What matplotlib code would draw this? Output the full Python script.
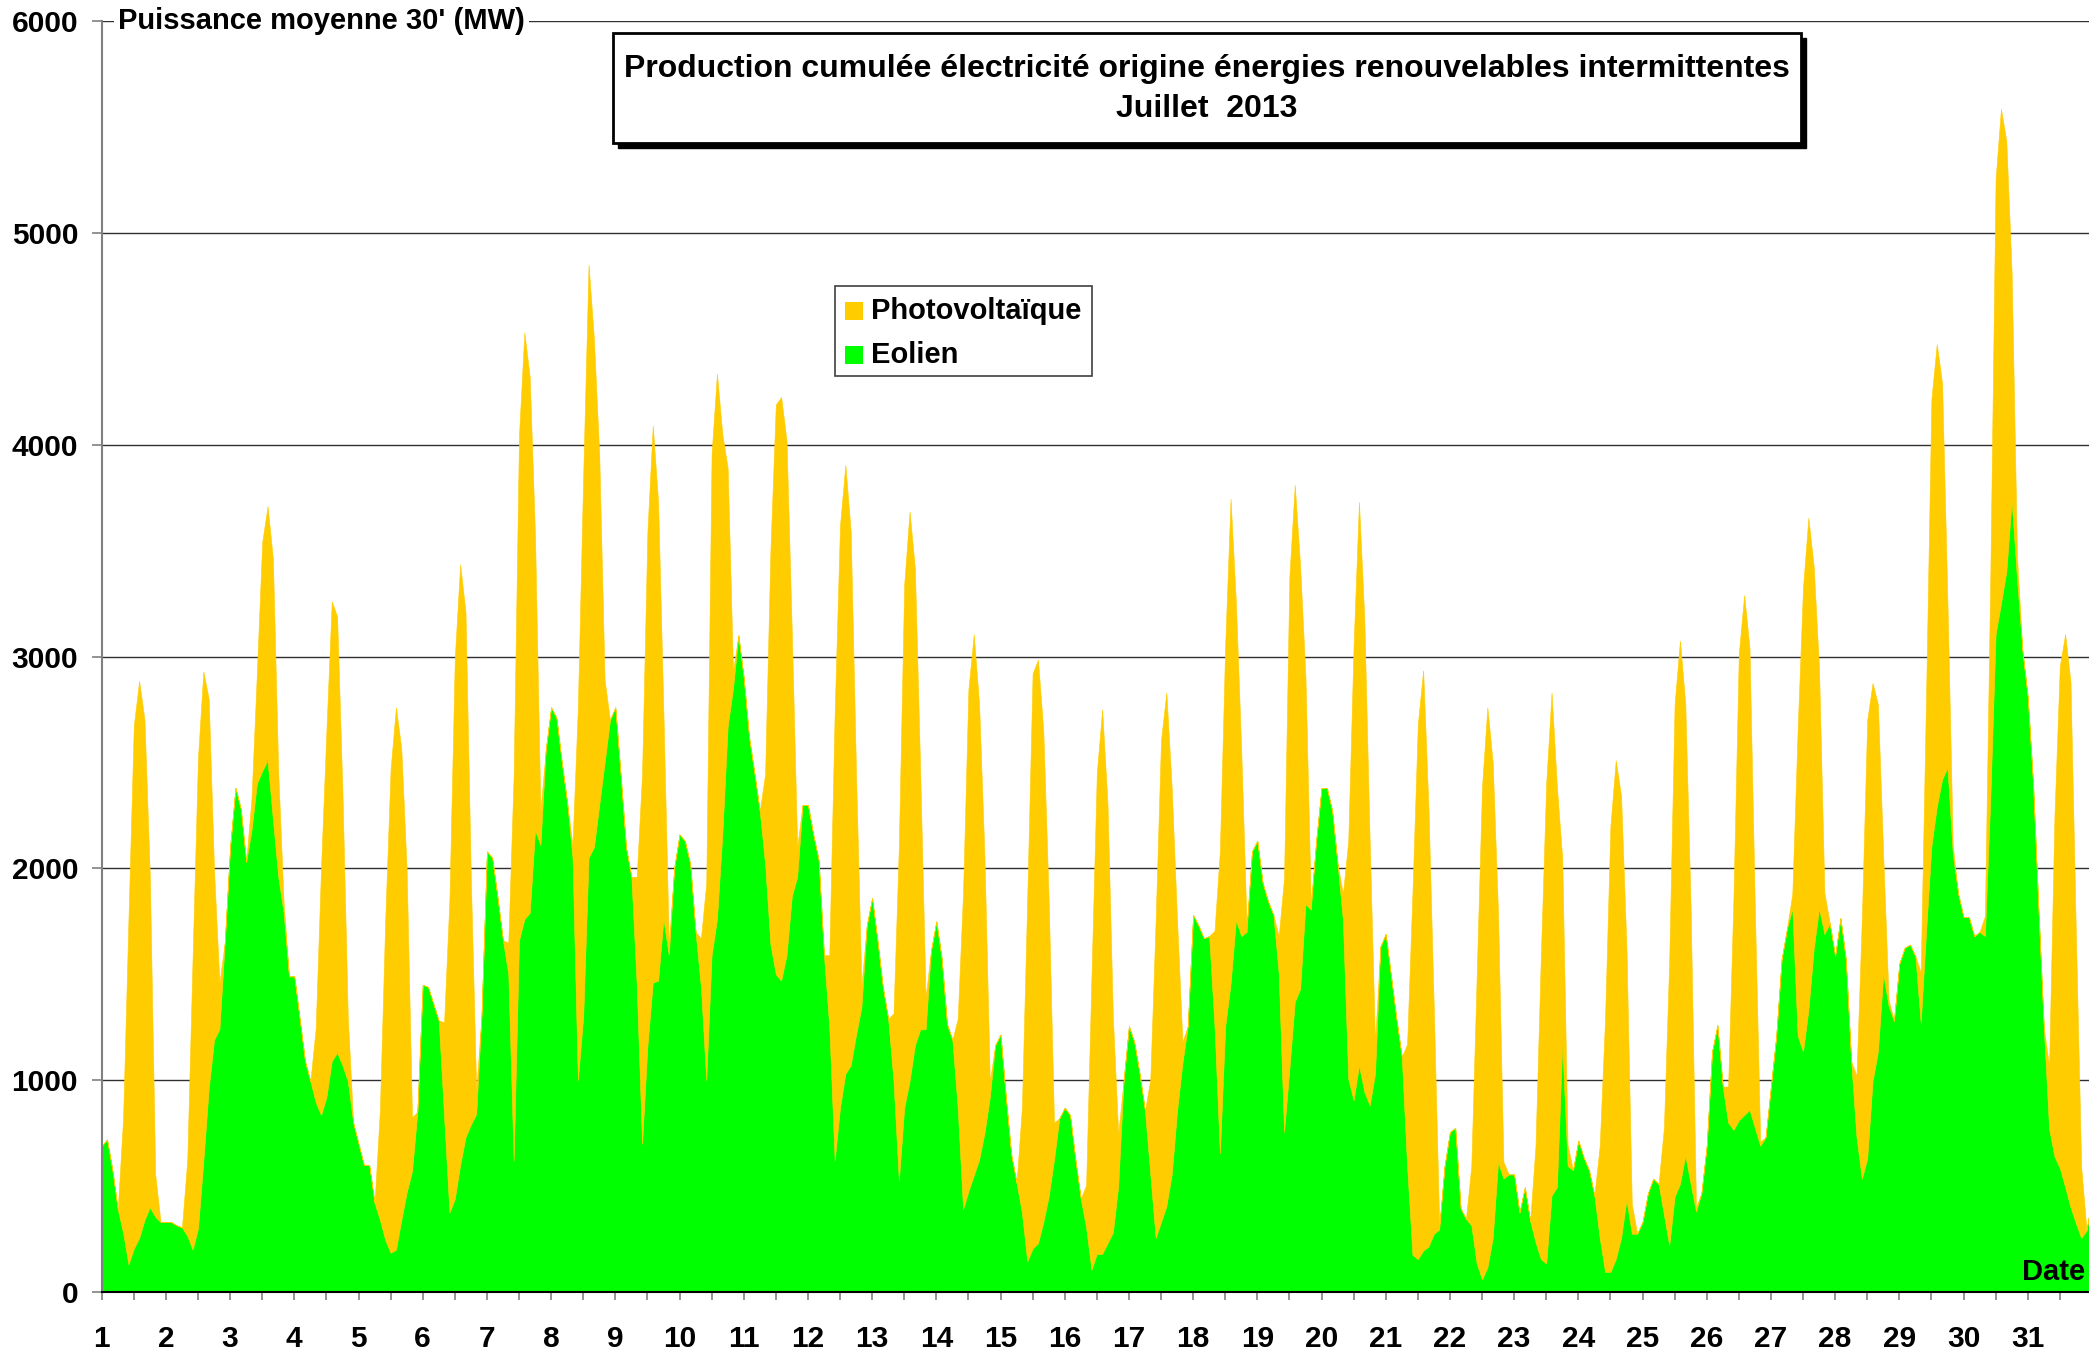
import matplotlib
matplotlib.use("Agg")
import matplotlib.pyplot as plt
from matplotlib.patches import Rectangle

plt.rcParams['font.family'] = ['Liberation Sans', 'DejaVu Sans']

# ---------------- data (MW) ----------------
jours = list(range(1, 32))                       # July 2013, day labels
heures_eolien = [0, 2, 4, 6, 8, 10, 12, 14, 16, 18, 20, 22]
heures_pv = [8, 10, 12, 14, 16, 18, 20]          # PV is zero at the other hours

eolien = [
    690, 720, 575, 390, 280, 130, 205, 255, 340, 400, 355, 330,          # 1
    330, 330, 315, 305, 265, 200, 300, 620, 960, 1190, 1240, 1650,       # 2
    2100, 2380, 2280, 2030, 2180, 2400, 2460, 2510, 2230, 1960, 1790, 1490,  # 3
    1490, 1290, 1090, 995, 895, 835, 920, 1090, 1130, 1070, 995, 800,    # 4
    700, 600, 600, 420, 340, 245, 185, 200, 340, 470, 570, 850,          # 5
    1450, 1440, 1360, 1280, 825, 375, 440, 600, 730, 790, 840, 1310,     # 6
    2080, 2050, 1860, 1660, 1500, 620, 1660, 1760, 1790, 2180, 2110, 2560,  # 7
    2760, 2710, 2500, 2310, 2050, 1000, 1300, 2050, 2100, 2300, 2500, 2700,  # 8
    2760, 2440, 2100, 1960, 1450, 700, 1160, 1460, 1470, 1760, 1590, 2000,  # 9
    2160, 2130, 2020, 1700, 1440, 1000, 1590, 1760, 2160, 2670, 2850, 3100,  # 10
    2900, 2620, 2450, 2270, 2020, 1640, 1500, 1470, 1590, 1870, 1960, 2300,  # 11
    2300, 2160, 2040, 1590, 1250, 620, 870, 1030, 1070, 1215, 1345, 1730,    # 12
    1860, 1660, 1440, 1290, 995, 525, 870, 995, 1165, 1240, 1240, 1610,      # 13
    1750, 1575, 1265, 1190, 870, 390, 475, 550, 625, 750, 920, 1165,         # 14
    1215, 920, 650, 515, 375, 145, 205, 230, 330, 450, 625, 820,             # 15
    870, 835, 625, 440, 305, 105, 180, 180, 230, 280, 500, 995,              # 16
    1255, 1180, 1030, 855, 555, 255, 330, 405, 555, 855, 1080, 1255,         # 17
    1780, 1730, 1670, 1680, 1255, 655, 1255, 1455, 1755, 1680, 1700, 2080,   # 18
    2130, 1930, 1845, 1780, 1505, 755, 1055, 1370, 1430, 1830, 1805, 2130,   # 19
    2380, 2380, 2270, 2020, 1755, 1005, 905, 1070, 945, 880, 1030, 1630,     # 20
    1690, 1490, 1290, 1110, 595, 175, 155, 195, 215, 275, 295, 595,          # 21
    755, 775, 395, 345, 315, 135, 60, 115, 255, 615, 535, 555,               # 22
    555, 375, 495, 335, 235, 155, 135, 455, 495, 1170, 595, 575,             # 23
    715, 635, 575, 455, 255, 95, 95, 155, 255, 435, 275, 275,                # 24
    330, 465, 535, 510, 365, 220, 450, 510, 645, 510, 380, 465,              # 25
    690, 1135, 1260, 970, 800, 765, 810, 835, 860, 775, 690, 730,            # 26
    970, 1210, 1570, 1715, 1810, 1210, 1135, 1330, 1620, 1810, 1690, 1740,   # 27
    1585, 1765, 1570, 1090, 730, 535, 630, 995, 1135, 1500, 1350, 1280,      # 28
    1550, 1625, 1640, 1585, 1270, 1700, 2105, 2290, 2420, 2475, 2065, 1880,  # 29
    1770, 1770, 1680, 1700, 1680, 2325, 3105, 3250, 3400, 3735, 3365, 3030,  # 30
    2810, 2400, 1810, 1250, 770, 640, 585, 495, 400, 325, 255, 290,          # 31
]
eolien_fin = 450   # 1 Aug 0h

photovoltaique = [
    540, 1630, 2470, 2630, 2360, 1560, 200,   # 1
    360, 1390, 2225, 2310, 1840, 800, 220,    # 2
    150, 520, 1080, 1200, 1230, 490, 50,      # 3
    350, 1170, 1730, 2170, 2060, 1290, 300,   # 4
    520, 1515, 2285, 2560, 2225, 1525, 255,   # 5
    450, 1480, 2555, 2835, 2480, 1160, 110,   # 6
    150, 1820, 2385, 2770, 2530, 1385, 160,   # 7
    60, 1760, 2555, 2800, 2400, 1650, 390,    # 8
    510, 1745, 2430, 2630, 2260, 970, 50,     # 9
    230, 930, 2370, 2575, 1890, 1220, 80,     # 10
    425, 1865, 2690, 2755, 2430, 1235, 140,   # 11
    340, 2110, 2750, 2875, 2520, 1230, 100,   # 12
    320, 1580, 2470, 2690, 2250, 1210, 150,   # 13
    420, 1495, 2370, 2555, 2150, 1310, 75,    # 14
    495, 1715, 2715, 2755, 2320, 1405, 175,   # 15
    200, 1380, 2270, 2570, 2075, 1020, 245,   # 16
    450, 1500, 2275, 2425, 1825, 900, 100,    # 17
    450, 1425, 1800, 2290, 1500, 875, 30,     # 18
    175, 1200, 2325, 2440, 2000, 1075, 30,    # 19
    125, 1125, 2150, 2660, 2235, 1250, 150,   # 20
    575, 1710, 2525, 2740, 2065, 1055, 20,    # 21
    280, 1350, 2325, 2645, 2245, 1170, 80,    # 22
    455, 1430, 2265, 2375, 1890, 875, 100,    # 23
    435, 1195, 2105, 2355, 2085, 1190, 140,   # 24
    410, 1350, 2325, 2565, 2130, 1300, 20,    # 25
    170, 1095, 2205, 2455, 2180, 1035, 20,    # 26
    70, 1445, 2190, 2325, 1805, 1130, 195,    # 27
    290, 1230, 2070, 1880, 1640, 555, 30,     # 28
    240, 1110, 2110, 2185, 1870, 780, 40,     # 29
    95, 1035, 2150, 2335, 2035, 1075, 110,    # 30
    295, 1610, 2370, 2610, 2480, 1370, 335,   # 31
]

titre = "Production cumulée électricité origine énergies renouvelables intermittentes\nJuillet  2013"
label_y = "Puissance moyenne 30' (MW)"
label_x = "Date"
noms_series = ["Photovoltaïque", "Eolien"]
couleurs = ["#FFCC00", "#00FF00"]

# ---------------- build time series ----------------
t, wind, pv = [], [], []
nh = len(heures_eolien)
for d in range(len(jours)):
    for k, h in enumerate(heures_eolien):
        t.append(d + h / 24.0)
        wind.append(eolien[d * nh + k])
        if h in heures_pv:
            pv.append(photovoltaique[d * len(heures_pv) + heures_pv.index(h)])
        else:
            pv.append(0)
t.append(len(jours))
wind.append(eolien_fin)
pv.append(0)
total = [w + p for w, p in zip(wind, pv)]

# ---------------- figure ----------------
W, H = 2089, 1355
fig = plt.figure(figsize=(W / 100, H / 100), dpi=100)


def fx(x):
    return x / W


def fy(y):
    return 1 - y / H


x0, x1, ytop, ybot = 101.7, 2089, 21, 1292
ax = fig.add_axes([fx(x0), fy(ybot), fx(x1) - fx(x0), fy(ytop) - fy(ybot)])

ax.fill_between(t, 0, wind, facecolor=couleurs[1], edgecolor=couleurs[1], lw=0.4, zorder=2)
ax.fill_between(t, wind, total, facecolor=couleurs[0], edgecolor=couleurs[0], lw=0.4, zorder=2)

ax.set_xlim(0, (x1 - x0) / 64.2)
ax.set_ylim(0, 6000)
ax.set_yticks(range(0, 6001, 1000))
ax.set_yticklabels([str(v) for v in range(0, 6001, 1000)], fontsize=21.5, fontweight='bold')
ax.set_xticks(range(0, 31))
ax.set_xticklabels([str(j) for j in jours], fontsize=21.5, fontweight='bold')
ax.set_xticks([d + 0.5 for d in range(31)], minor=True)
ax.tick_params(axis='x', which='both', direction='out', length=6, width=1.2,
               color='#808080', pad=18)
ax.tick_params(axis='y', direction='out', length=7, width=1.2, color='#808080', pad=10)

ax.yaxis.grid(True, color='#303030', lw=1.0, zorder=0)
ax.set_axisbelow(True)
for s in ['top', 'right']:
    ax.spines[s].set_visible(False)
ax.spines['left'].set_color('#808080')
ax.spines['left'].set_linewidth(1.5)
ax.spines['bottom'].set_color('black')
ax.spines['bottom'].set_linewidth(1.5)
ax.spines['bottom'].set_zorder(5)

# y-axis title at the top, with white background
ax.text((118 - x0) / (x1 - x0), 6000, label_y, transform=ax.get_yaxis_transform(),
        fontsize=21, fontweight='bold', va='center', ha='left', zorder=6,
        bbox=dict(facecolor='white', edgecolor='none', pad=3))

# "Date"
fig.text(fx(2085), fy(1272), label_x, fontsize=21, fontweight='bold', ha='right', va='center', zorder=10)

# Title box with shadow
bx0, by0, bx1, by1 = 613, 33, 1801, 143
fig.patches.append(Rectangle((fx(bx0 + 5), fy(by1 + 5)), fx(bx1 - bx0), fy(by0) - fy(by1),
                             transform=fig.transFigure, facecolor='black', edgecolor='black', zorder=8))
fig.patches.append(Rectangle((fx(bx0), fy(by1)), fx(bx1 - bx0), fy(by0) - fy(by1),
                             transform=fig.transFigure, facecolor='white', edgecolor='black', lw=2, zorder=9))
lignes = titre.split("\n")
fig.text(fx((bx0 + bx1) / 2), fy(69), lignes[0], fontsize=23, fontweight='bold', ha='center', va='center', zorder=10)
fig.text(fx((bx0 + bx1) / 2), fy(109), lignes[1], fontsize=23, fontweight='bold', ha='center', va='center', zorder=10)

# Legend box
lx0, ly0, lx1, ly1 = 835, 286, 1092, 376
fig.patches.append(Rectangle((fx(lx0), fy(ly1)), fx(lx1 - lx0), fy(ly0) - fy(ly1),
                             transform=fig.transFigure, facecolor='white', edgecolor='#404040', lw=1.2, zorder=8))
for i, (nom, c) in enumerate(zip(noms_series, couleurs)):
    yc = 311 + i * 44
    fig.patches.append(Rectangle((fx(845), fy(yc + 9)), fx(18), fy(yc - 9) - fy(yc + 9),
                                 transform=fig.transFigure, facecolor=c, edgecolor='none', zorder=9))
    fig.text(fx(871), fy(yc), nom, fontsize=21, fontweight='bold', ha='left', va='center', zorder=10)

fig.savefig("out.png", dpi=100)
